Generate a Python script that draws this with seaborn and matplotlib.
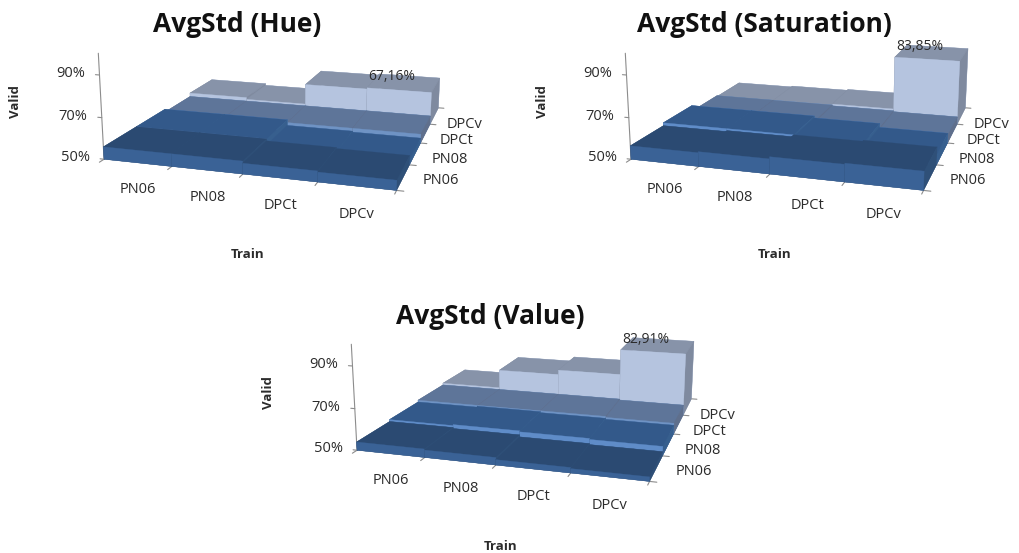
import matplotlib
matplotlib.use("Agg")
import matplotlib.pyplot as plt
import numpy as np
import seaborn as sns

sns.set_theme(style="white")
plt.rcParams["font.family"] = ["Open Sans", "DejaVu Sans"]

train_labels = ["PN06", "PN08", "DPCt", "DPCv"]
valid_labels = ["PN06", "PN08", "DPCt", "DPCv"]
z_ticks = [50, 70, 90]

# rows are Valid (front to back), columns are Train
hue_values = [
    [56.0, 56.0, 55.0, 54.5],
    [56.0, 56.0, 53.0, 52.5],
    [54.5, 54.5, 54.5, 54.5],
    [56.5, 55.5, 66.5, 67.16],
]
sat_values = [
    [56.5, 57.0, 58.0, 58.5],
    [58.0, 58.0, 57.0, 55.0],
    [55.0, 55.0, 54.5, 54.0],
    [54.5, 55.0, 55.5, 83.85],
]
val_values = [
    [54.0, 53.5, 52.5, 52.0],
    [55.0, 55.5, 55.0, 54.5],
    [56.0, 56.0, 56.0, 55.5],
    [57.0, 67.0, 69.5, 82.91],
]

top_colors = ["#2b4a72", "#33598a", "#5e7599", "#8793a9"]
front_colors = ["#3a6296", "#5f8cc8", "#6f93c4", "#b5c4df"]
side_colors = ["#2f5078", "#375f8e", "#5f6f8c", "#7f8a9f"]
axis_color = "#8c8c8c"
text_color = "#2b2b2b"


def draw_panel(fig, dx, dy, title, values, label):
    size = 400
    cx, cy = 282 + dx, 89 + dy
    W, H = fig.get_size_inches() * fig.dpi
    ax = fig.add_axes(
        [(cx - size / 2) / W, 1 - (cy + size / 2) / H, size / W, size / H],
        projection="3d",
        computed_zorder=False,
    )
    ax.patch.set_visible(False)
    ax.set_proj_type("persp", focal_length=0.4)
    ax.view_init(elev=14, azim=-73)
    ax.set_box_aspect((305, 300, 112), zoom=0.95)
    ax.set_axis_off()

    order = 10
    for r in range(3, -1, -1):
        for c in range(4):
            colors = [top_colors[r], top_colors[r], front_colors[r], front_colors[r],
                      side_colors[r], side_colors[r]]
            ax.bar3d(c, r, 50, 1, 1, values[r][c] - 50, color=colors, edgecolor=colors,
                     linewidth=0.25, shade=False, zorder=order)
            order += 1

    ax.plot([0, 0], [0, 0], [50, 100], color=axis_color, lw=0.8, zorder=1, clip_on=False)
    for z in z_ticks:
        ax.plot([0, -0.06], [0, 0], [z, z], color=axis_color, lw=0.8, zorder=1, clip_on=False)
        ax.text(-0.22, 0, z, f"{z}%", ha="right", va="center", fontsize=10.5,
                color=text_color, zorder=1000)
    for i in range(5):
        ax.plot([i, i], [0, -0.13], [50, 50], color=axis_color, lw=0.8, zorder=1, clip_on=False)
        ax.plot([4, 4.09], [i, i], [50, 50], color=axis_color, lw=0.8, zorder=1, clip_on=False)
    # labels sit a bit off the cell centres in the original
    for i, name in enumerate(train_labels):
        ax.text(0.95 + i * 0.917, -0.9, 50, name, ha="center", va="center", fontsize=10.5,
                color=text_color, zorder=1000)
    for i, name in enumerate(valid_labels):
        ax.text(4.25, 0.45 + i * 0.867, 50, name, ha="left", va="center", fontsize=10.5,
                color=text_color, zorder=1000)

    fig.text((237 + dx) / W, 1 - (25 + dy) / H, title, ha="center", va="center",
             fontsize=19, fontweight="bold", color="#111111")
    fig.text((248 + dx) / W, 1 - (255 + dy) / H, "Train", ha="center", va="center",
             fontsize=9.5, fontweight="bold", color=text_color)
    fig.text((16 + dx) / W, 1 - (102 + dy) / H, "Valid", ha="center", va="center",
             rotation=90, fontsize=9.5, fontweight="bold", color=text_color)
    ax.text(3.3, 3.5, values[3][3] - 1, label, ha="center", va="bottom",
            fontsize=10, color=text_color, zorder=1000)
    ax.set_xlim(0, 4)
    ax.set_ylim(0, 4)
    ax.set_zlim(50, 100)


fig = plt.figure(figsize=(10.19, 5.53), dpi=100)
draw_panel(fig, 0, 0, "AvgStd (Hue)", hue_values, "67,16%")
draw_panel(fig, 527, 0, "AvgStd (Saturation)", sat_values, "83,85%")
draw_panel(fig, 253, 291, "AvgStd (Value)", val_values, "82,91%")
fig.savefig("out.png", dpi=100)
